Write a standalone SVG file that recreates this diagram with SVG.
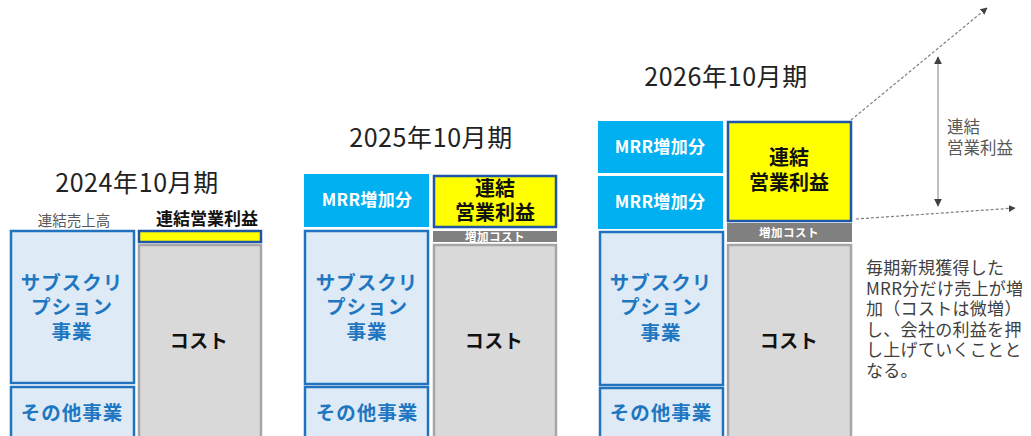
<svg xmlns="http://www.w3.org/2000/svg" width="1031" height="436" viewBox="0 0 1031 436">
<defs>
<style>
text{font-family:"Noto Sans CJK JP","Noto Sans",sans-serif;text-anchor:middle}
.title{font-size:25px;fill:#222;letter-spacing:0.6px}
.sub{fill:#DEEBF7;stroke:#2173C0;stroke-width:2.5}
.subt{font-size:19.5px;font-weight:700;fill:#1F77C2;letter-spacing:1px}
.cost{fill:#D9D9D9;stroke:#A6A6A6;stroke-width:2.5}
.costt{font-size:19px;font-weight:700;fill:#111;letter-spacing:0.5px}
.prof{fill:#FFFF00;stroke:#1F56A8;stroke-width:2.5}
.proft{font-size:20px;font-weight:700;fill:#111}
.mrr{fill:#00B0F0}
.mrrt{font-size:17px;font-weight:700;fill:#fff;letter-spacing:0.3px}
.inc{fill:#808080}
.inct{font-size:11.5px;font-weight:700;fill:#fff;letter-spacing:0.5px}
.dash{stroke:#7F7F7F;stroke-width:1.2;stroke-dasharray:3 2;fill:none}
.note{font-size:17px;fill:#404040;text-anchor:start;letter-spacing:0.3px}
</style>
<marker id="ah" viewBox="0 0 10 10" refX="9" refY="5" markerWidth="7" markerHeight="7" markerUnits="userSpaceOnUse" orient="auto"><path d="M0,0 L10,5 L0,10 z" fill="#404040"/></marker>
<marker id="ah2" viewBox="0 0 10 10" refX="9" refY="5" markerWidth="8" markerHeight="8" markerUnits="userSpaceOnUse" orient="auto-start-reverse"><path d="M0,0 L10,5 L0,10 z" fill="#404040"/></marker>
</defs>
<rect width="1031" height="436" fill="#fff"/>

<g id="fy2024">
<text class="title" x="137" y="192">2024年10月期</text>
<text x="74" y="226" style="font-size:14.5px;fill:#595959">連結売上高</text>
<text x="207" y="225" style="font-size:17px;font-weight:700;fill:#111">連結営業利益</text>
<g id="fy2024-sub"><rect class="sub" x="11" y="231" width="123" height="152"/>
<text class="subt" x="72" y="290">サブスクリ<tspan x="72" y="314">プション</tspan><tspan x="72" y="339">事業</tspan></text></g>
<g id="fy2024-other"><rect class="sub" x="11" y="387" width="123" height="70"/><text class="subt" x="72" y="420">その他事業</text></g>
<g id="fy2024-profit"><rect class="prof" x="139" y="231" width="122" height="11"/></g>
<g id="fy2024-cost"><rect class="cost" x="139" y="245" width="122" height="210"/><text class="costt" x="199" y="348">コスト</text></g>
</g>

<g id="fy2025">
<text class="title" x="431" y="147">2025年10月期</text>
<g id="fy2025-mrr"><rect class="mrr" x="304" y="174" width="125" height="53"/><text class="mrrt" x="367" y="206">MRR増加分</text></g>
<g id="fy2025-profit"><rect class="prof" x="434" y="176" width="122" height="51"/>
<text class="proft" x="495" y="196">連結<tspan x="495" y="220">営業利益</tspan></text></g>
<g id="fy2025-inc"><rect class="inc" x="433" y="231" width="124" height="11"/><text class="inct" x="495" y="241">増加コスト</text></g>
<g id="fy2025-sub"><rect class="sub" x="305" y="231" width="123" height="153"/>
<text class="subt" x="367" y="290">サブスクリ<tspan x="367" y="314">プション</tspan><tspan x="367" y="339">事業</tspan></text></g>
<g id="fy2025-other"><rect class="sub" x="305" y="387" width="123" height="70"/><text class="subt" x="367" y="420">その他事業</text></g>
<g id="fy2025-cost"><rect class="cost" x="434" y="245" width="122" height="210"/><text class="costt" x="494" y="348">コスト</text></g>
</g>

<g id="fy2026">
<text class="title" x="726" y="86">2026年10月期</text>
<g id="fy2026-mrr1"><rect class="mrr" x="598" y="121" width="125" height="52"/><text class="mrrt" x="660" y="153">MRR増加分</text></g>
<g id="fy2026-mrr2"><rect class="mrr" x="598" y="176" width="125" height="53"/><text class="mrrt" x="660" y="208">MRR増加分</text></g>
<g id="fy2026-profit"><rect class="prof" x="728" y="122" width="123" height="99"/>
<text class="proft" x="789" y="165">連結<tspan x="789" y="190">営業利益</tspan></text></g>
<g id="fy2026-inc"><rect class="inc" x="727" y="223" width="125" height="19"/><text class="inct" x="789" y="237">増加コスト</text></g>
<g id="fy2026-sub"><rect class="sub" x="600" y="232" width="123" height="153"/>
<text class="subt" x="661" y="290">サブスクリ<tspan x="661" y="314">プション</tspan><tspan x="661" y="340">事業</tspan></text></g>
<g id="fy2026-other"><rect class="sub" x="600" y="388" width="123" height="70"/><text class="subt" x="661" y="420">その他事業</text></g>
<g id="fy2026-cost"><rect class="cost" x="728" y="245" width="123" height="210"/><text class="costt" x="789" y="348">コスト</text></g>
</g>

<g id="connectors">
<line class="dash" x1="851" y1="120" x2="987" y2="8" marker-end="url(#ah)"/>
<line class="dash" x1="856" y1="219" x2="1015" y2="208" marker-end="url(#ah)"/>
<line x1="938" y1="57" x2="938" y2="206" stroke="#BFBFBF" stroke-width="2" marker-start="url(#ah2)" marker-end="url(#ah2)"/>
</g>

<g id="label-profit">
<text x="947" y="133" style="font-size:16.5px;fill:#595959;text-anchor:start">連結<tspan x="947" y="154">営業利益</tspan></text>
</g>

<g id="note">
<text class="note" x="866" y="274">毎期新規獲得した<tspan x="866" y="295">MRR分だけ売上が増</tspan><tspan x="866" y="315">加（コストは微増）</tspan><tspan x="866" y="336">し、会社の利益を押</tspan><tspan x="866" y="356">し上げていくことと</tspan><tspan x="866" y="377">なる。</tspan></text>
</g>
</svg>
